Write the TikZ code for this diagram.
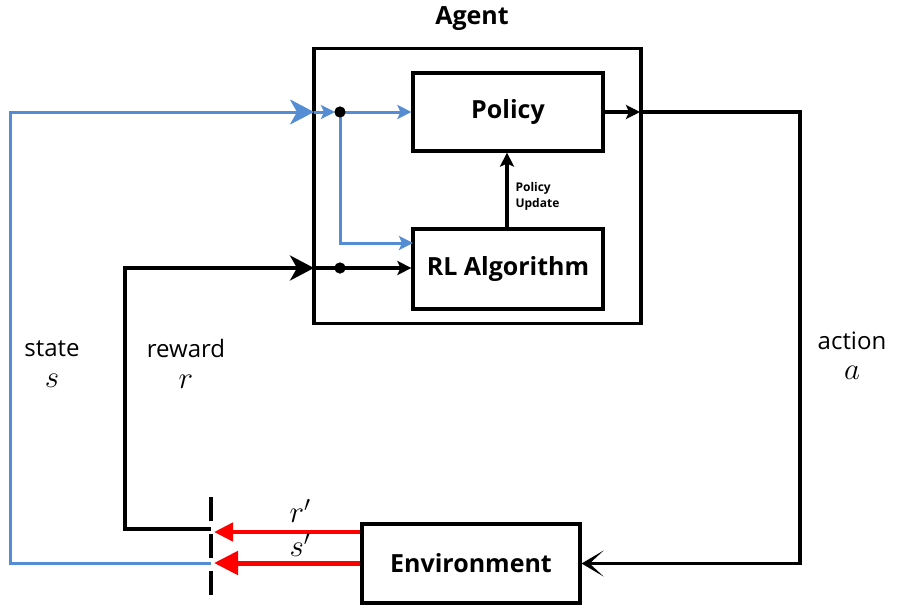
\RequirePackage{fix-cm}
\documentclass[tikz,border=0pt]{standalone}
\usepackage{fontspec}
\setmainfont{Open Sans}
\usetikzlibrary{arrows.meta}

\definecolor{stateblue}{RGB}{84,141,212}
\definecolor{envred}{RGB}{255,0,0}

\begin{document}
\begin{tikzpicture}[x=1pt,y=-1pt,
  box/.style={draw, line width=3.2pt, inner sep=0pt, font=\fontsize{25}{30}\selectfont\bfseries},
  wire/.style={line width=3.8pt, line join=miter},
  bluewire/.style={stateblue, line width=3pt, line join=miter},
  redwire/.style={envred, line width=4.5pt},
  bigtip/.style={-{Stealth[length=24pt,width=25pt,inset=7pt]}},
  smalltip/.style={-{Stealth[length=14pt,width=14pt,inset=3pt]}},
  openv/.style={-{Stealth[length=22pt,width=26pt,inset=14pt]}},
  junction/.style={circle, fill=black, inner sep=0pt, minimum size=11pt},
  lbl/.style={inner sep=0pt, font=\fontsize{24}{29}\selectfont},
  mathlbl/.style={inner sep=0pt, font=\fontsize{31}{34}\selectfont},
]
\useasboundingbox (0,0) rectangle (897,608);

% --- boxes ---
\node[box, minimum width=327pt, minimum height=275pt] (agent) at (477.5,186) {};
\node[font=\fontsize{25}{30}\selectfont\bfseries] (agenttitle) at (472,19) {Agent};
\node[box, minimum width=190pt, minimum height=78pt] (policy) at (508,112) {Policy};
\node[box, minimum width=190pt, minimum height=80pt] (rl) at (508,269) {RL Algorithm};
\node[box, minimum width=218pt, minimum height=79pt] (env) at (471,563.5) {Environment};

% --- junctions and ports ---
\coordinate (sIn) at (314,112);
\coordinate (rIn) at (314,268);
\coordinate (sCut) at (211,563);
\coordinate (rCut) at (211,529);
\coordinate (sTip) at (214,563);
\coordinate (rTip) at (214,532);
\coordinate (aOut) at (640,112);
\node[junction] (dotS) at (340,112) {};
\node[junction] (dotR) at (340,268) {};

% --- state feedback (blue) ---
\draw[bluewire, bigtip] (sCut) -- (10,563) |- (sIn);
\draw[bluewire, smalltip, shorten >=5pt] (sIn) -- (dotS.center);
\draw[bluewire, smalltip] (dotS.center) -- (policy.west |- dotS);
\draw[bluewire, smalltip] (dotS.center) |- (413,243);
\node[junction] at (dotS) {};

% --- reward feedback (black) ---
\draw[wire, bigtip] (rCut) -- (125,529) |- (rIn);
\draw[wire] (rIn) -- (dotR.center);
\draw[wire, smalltip] (dotR.center) -- (rl.west |- dotR);
\node[junction] at (dotR) {};

% --- policy update ---
\draw[wire, smalltip] (rl.north -| 507,0) -- (policy.south -| 507,0);
\node[anchor=west, align=left, font=\fontsize{12}{16}\selectfont\bfseries] (updlbl) at (512,196) {Policy\\Update};

% --- action ---
\draw[wire, smalltip] (policy.east |- aOut) -- (aOut);
\draw[wire, openv] (aOut) -- (800,112) |- (env.east);

% --- environment outputs (red) ---
\draw[redwire, -{Triangle[length=19pt,width=18pt]}] (env.west |- rTip) -- (rTip);
\draw[redwire, line width=5pt, -{Triangle[length=24pt,width=23pt]}] (env.west |- sTip) -- (sTip);
\node[mathlbl] (rprime) at (300,511) {$r'$};
\node[mathlbl] (sprime) at (300,545) {$s'$};

% --- sampling cut ---
\draw[line width=4pt, dash pattern=on 24pt off 13pt] (211,497) -- (211,604);

% --- labels ---
\node[lbl] (statelbl) at (52,349) {state};
\node[mathlbl] (statesym) at (52,381) {$s$};
\node[lbl] (rewardlbl) at (186,348) {reward};
\node[mathlbl] (rewardsym) at (186,382) {$r$};
\node[lbl] (actionlbl) at (852,341) {action};
\node[mathlbl] (actionsym) at (852,373) {$a$};
\end{tikzpicture}
\end{document}
